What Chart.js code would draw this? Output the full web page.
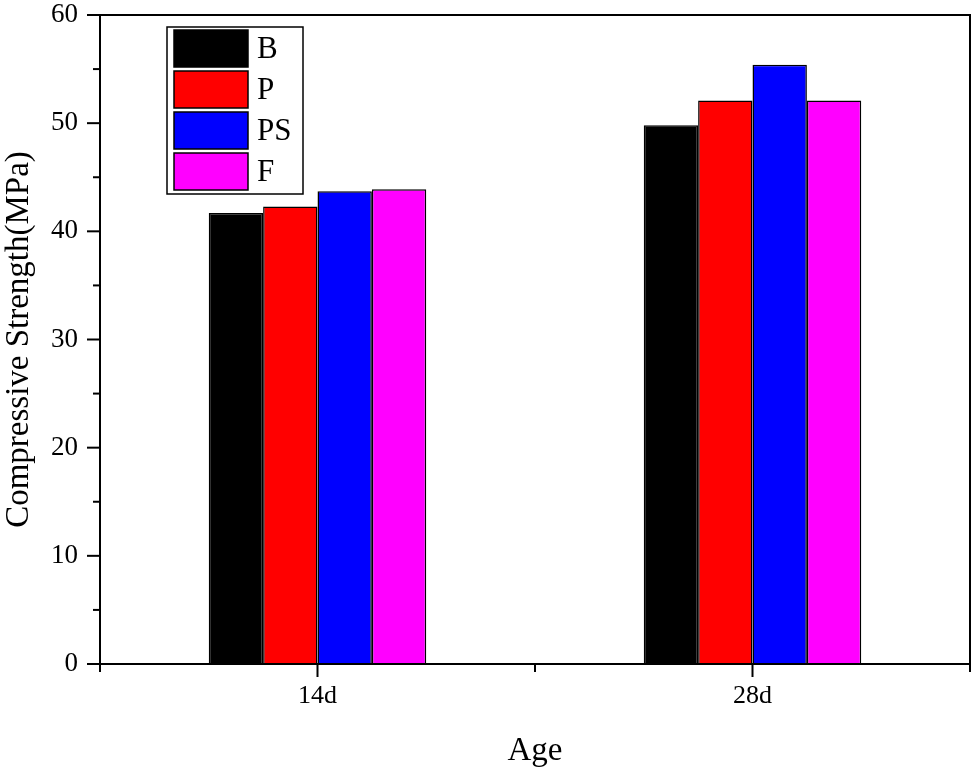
<!DOCTYPE html>
<html>
<head>
<meta charset="utf-8">
<script src="https://cdn.jsdelivr.net/npm/chart.js@4/dist/chart.umd.min.js"></script>
<style>
  html, body { margin: 0; padding: 0; background: #fff; }
  #wrap { width: 972px; height: 772px; }
</style>
</head>
<body>
<div id="wrap"><canvas id="chart" width="972" height="772"></canvas></div>
<script>
var ages = ['14d', '28d'];
var seriesNames = ['B', 'P', 'PS', 'F'];
var valuesB = [41.7, 49.8];
var valuesP = [42.3, 52.1];
var valuesPS = [43.7, 55.4];
var valuesF = [43.9, 52.1];
var yTicks = [0, 10, 20, 30, 40, 50, 60];

var colors = ['#000000', '#ff0000', '#0000ff', '#ff00ff'];
var serif = '"Liberation Serif", "Times New Roman", serif';

function makeSet(i, values) {
    return {
        label: seriesNames[i],
        data: values,
        backgroundColor: colors[i],
        borderColor: '#000000',
        borderWidth: 1.5,
        categoryPercentage: 0.5,
        barPercentage: 1.0
    };
}

// frame, tick marks and the boxed legend
var framePlugin = {
    id: 'frame',
    afterDraw: function (chart) {
        var ctx = chart.ctx;
        var a = chart.chartArea;
        var x = chart.scales.x;
        var y = chart.scales.y;
        ctx.save();
        ctx.strokeStyle = '#000';
        ctx.lineWidth = 2;
        ctx.beginPath();
        ctx.moveTo(a.left, a.bottom);
        ctx.lineTo(a.left, a.top);
        ctx.lineTo(a.right, a.top);
        ctx.lineTo(a.right, a.bottom);
        ctx.lineTo(a.left, a.bottom);
        ctx.stroke();

        // y ticks: major every 10, minor every 5
        for (var v = 0; v <= 60; v += 5) {
            var py = y.getPixelForValue(v);
            var len = v % 10 === 0 ? 13 : 7;
            ctx.beginPath();
            ctx.moveTo(a.left - len, py);
            ctx.lineTo(a.left, py);
            ctx.stroke();
        }

        // x ticks: at category centres (long) and at boundaries (short)
        for (var i = 0; i < ages.length; i++) {
            var cx = x.getPixelForValue(i);
            ctx.beginPath();
            ctx.moveTo(cx, a.bottom);
            ctx.lineTo(cx, a.bottom + 13);
            ctx.stroke();
        }
        var step = (a.right - a.left) / ages.length;
        for (var k = 0; k <= ages.length; k++) {
            var bx = a.left + k * step;
            ctx.beginPath();
            ctx.moveTo(bx, a.bottom);
            ctx.lineTo(bx, a.bottom + 8);
            ctx.stroke();
        }

        // legend box
        var lx = 167, ly = 27, lw = 136, lh = 167;
        ctx.lineWidth = 1.5;
        ctx.strokeRect(lx, ly, lw, lh);
        ctx.font = '31px ' + serif;
        ctx.textBaseline = 'middle';
        ctx.textAlign = 'left';
        chart.data.datasets.forEach(function (ds, j) {
            var sy = 30 + j * 41;
            ctx.fillStyle = ds.backgroundColor;
            ctx.fillRect(174, sy, 74, 37);
            ctx.strokeStyle = '#000';
            ctx.strokeRect(174, sy, 74, 37);
            ctx.fillStyle = '#000';
            ctx.fillText(ds.label, 257, sy + 20);
        });
        ctx.restore();
    }
};

new Chart(document.getElementById('chart'), {
    type: 'bar',
    data: {
        labels: ages,
        datasets: [
            makeSet(0, valuesB),
            makeSet(1, valuesP),
            makeSet(2, valuesPS),
            makeSet(3, valuesF)
        ]
    },
    options: {
        responsive: false,
        animation: false,
        layout: { padding: { top: 15, right: 2, left: 0, bottom: 0 } },
        plugins: {
            legend: { display: false },
            tooltip: { enabled: false }
        },
        scales: {
            x: {
                grid: { display: false, drawTicks: false },
                border: { display: false },
                ticks: {
                    color: '#000',
                    padding: 17,
                    font: { family: serif, size: 26 }
                },
                title: {
                    display: true,
                    text: 'Age',
                    color: '#000',
                    padding: { top: 0, bottom: 1 },
                    font: { family: serif, size: 33 }
                },
                afterFit: function (s) {
                    s.height = 108;
                    s.paddingLeft = 0;
                    s.paddingRight = 0;
                }
            },
            y: {
                min: 0,
                max: 60,
                grid: { display: false, drawTicks: false },
                border: { display: false },
                afterBuildTicks: function (s) {
                    s.ticks = yTicks.map(function (t) { return { value: t }; });
                },
                ticks: {
                    color: '#000',
                    padding: 22,
                    font: { family: serif, size: 27 }
                },
                title: {
                    display: true,
                    text: 'Compressive Strength(MPa)',
                    color: '#000',
                    padding: { top: 0, bottom: 0 },
                    font: { family: serif, size: 33 }
                },
                afterFit: function (s) {
                    s.width = 100;
                    s.paddingTop = 0;
                    s.paddingBottom = 0;
                }
            }
        }
    },
    plugins: [framePlugin]
});
</script>
</body>
</html>
